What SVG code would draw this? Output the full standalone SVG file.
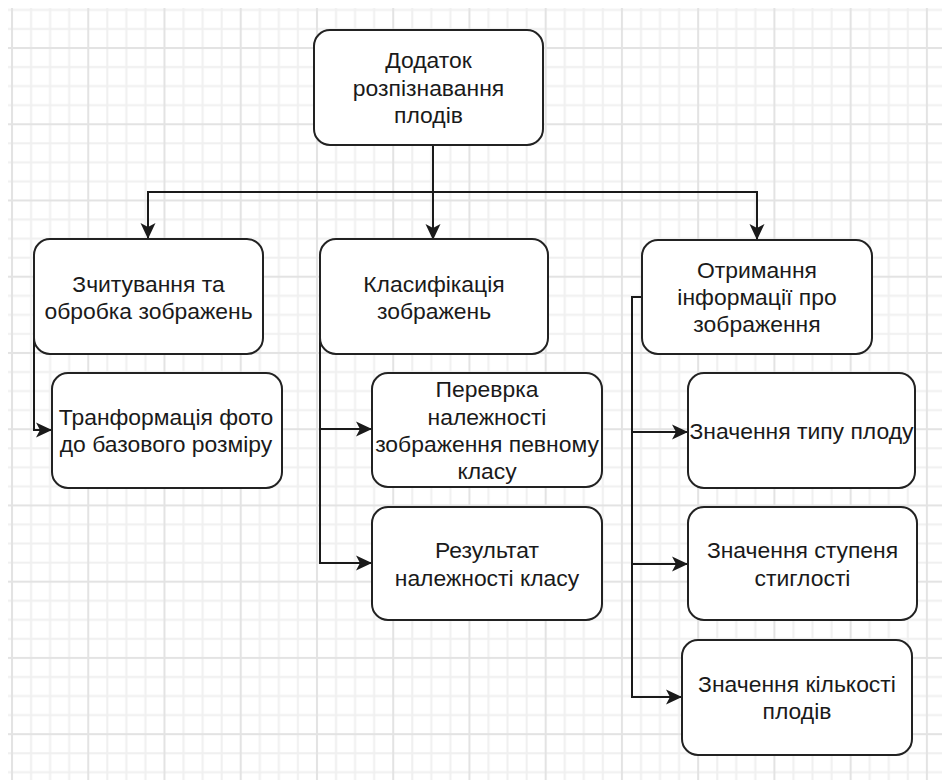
<svg xmlns="http://www.w3.org/2000/svg" width="942" height="780" viewBox="0 0 942 780">
<defs>
<pattern id="grid" patternUnits="userSpaceOnUse" x="11" y="47" width="76.24" height="76.24">
<rect x="0" y="0" width="76.24" height="76.24" fill="#ffffff"/>
<g fill="#f0f0f0">
<rect x="19.06" y="0" width="2" height="76.24"/>
<rect x="38.12" y="0" width="2" height="76.24"/>
<rect x="57.18" y="0" width="2" height="76.24"/>
<rect x="0" y="19.06" width="76.24" height="2"/>
<rect x="0" y="38.12" width="76.24" height="2"/>
<rect x="0" y="57.18" width="76.24" height="2"/>
</g>
<g fill="#e3e3e3">
<rect x="0" y="0" width="2" height="76.24"/>
<rect x="0" y="0" width="76.24" height="2"/>
</g>
</pattern>
<marker id="arrow" markerUnits="userSpaceOnUse" viewBox="0 0 16 16" refX="15" refY="8" markerWidth="16" markerHeight="16" orient="auto">
<path d="M0,0.5 L16,8 L0,15.5 L4,8 Z" fill="#1a1a1a"/>
</marker>
</defs>
<style>
.box{fill:#ffffff;stroke:#222222;stroke-width:2}
.lbl{font-family:"Liberation Sans",Arial,sans-serif;font-size:22.9px;fill:#1a1a1a;text-anchor:middle}
.edge{fill:none;stroke:#1a1a1a;stroke-width:2;marker-end:url(#arrow)}
</style>
<rect x="0" y="0" width="942" height="780" fill="#ffffff"/>
<rect x="8" y="8" width="934" height="772" fill="url(#grid)"/>

<g id="connectors">
<path class="edge" d="M433,145 V239"/>
<path class="edge" d="M433,145 V192 H148 V238"/>
<path class="edge" d="M433,145 V192 H757 V239"/>
<path class="edge" d="M34,297 V430 H51"/>
<path class="edge" d="M320,297 V429 H371"/>
<path class="edge" d="M320,297 V563 H371"/>
<path class="edge" d="M642,297 H632 V432 H687"/>
<path class="edge" d="M642,297 H632 V564 H687"/>
<path class="edge" d="M642,297 H632 V697 H681"/>
</g>

<g id="root">
<rect class="box" x="314" y="30" width="229" height="115" rx="16"/>
<text class="lbl"><tspan x="428.5" y="68">Додаток</tspan><tspan x="428.5" y="95.5">розпізнавання</tspan><tspan x="428.5" y="123">плодів</tspan></text>
</g>

<g id="read">
<rect class="box" x="34" y="239" width="229" height="115" rx="16"/>
<text class="lbl"><tspan x="148.5" y="291.5">Зчитування та</tspan><tspan x="148.5" y="319">обробка зображень</tspan></text>
</g>

<g id="transform">
<rect class="box" x="52" y="373" width="230" height="115" rx="16"/>
<text class="lbl"><tspan x="166" y="424.5">Транформація фото</tspan><tspan x="166" y="452">до базового розміру</tspan></text>
</g>

<g id="classify">
<rect class="box" x="320" y="239" width="228" height="115" rx="16"/>
<text class="lbl"><tspan x="434" y="291.5">Класифікація</tspan><tspan x="434" y="319">зображень</tspan></text>
</g>

<g id="check">
<rect class="box" x="372" y="373" width="230" height="114" rx="16"/>
<text class="lbl"><tspan x="487" y="397">Переврка</tspan><tspan x="487" y="424.5">належності</tspan><tspan x="487" y="452">зображення певному</tspan><tspan x="487" y="479">класу</tspan></text>
</g>

<g id="result">
<rect class="box" x="372" y="507" width="230" height="113" rx="16"/>
<text class="lbl"><tspan x="487" y="558">Результат</tspan><tspan x="487" y="585.5">належності класу</tspan></text>
</g>

<g id="info">
<rect class="box" x="642" y="240" width="230" height="114" rx="16"/>
<text class="lbl"><tspan x="757" y="277.5">Отримання</tspan><tspan x="757" y="305">інформації про</tspan><tspan x="757" y="332">зображення</tspan></text>
</g>

<g id="type">
<rect class="box" x="688" y="373" width="227" height="115" rx="16"/>
<text class="lbl"><tspan x="801.5" y="438.5">Значення типу плоду</tspan></text>
</g>

<g id="ripeness">
<rect class="box" x="688" y="507" width="229" height="113" rx="16"/>
<text class="lbl"><tspan x="802.5" y="558">Значення ступеня</tspan><tspan x="802.5" y="585.5">стиглості</tspan></text>
</g>

<g id="count">
<rect class="box" x="682" y="640" width="230" height="115" rx="16"/>
<text class="lbl"><tspan x="797" y="692">Значення кількості</tspan><tspan x="797" y="719">плодів</tspan></text>
</g>
</svg>
